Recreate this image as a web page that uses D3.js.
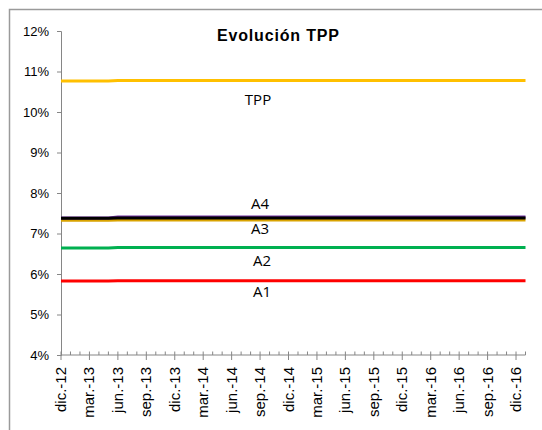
<!DOCTYPE html>
<html>
<head>
<meta charset="utf-8">
<script src="https://cdn.jsdelivr.net/npm/d3@7"></script>
<style>
  body { margin: 0; background: #fff; }
  svg { display: block; }
</style>
</head>
<body>
<svg id="chart" width="542" height="430"></svg>
<script>
// data (monthly axis, values in %)
const startMonth = "2012-12";
const endMonth = "2017-01";
const dates = ["2012-12", "2013-05", "2013-06", "2017-01"];
const tickLabels = ["dic.-12", "mar.-13", "jun.-13", "sep.-13", "dic.-13", "mar.-14", "jun.-14", "sep.-14",
    "dic.-14", "mar.-15", "jun.-15", "sep.-15", "dic.-15", "mar.-16", "jun.-16", "sep.-16", "dic.-16"];
const yTicks = [4, 5, 6, 7, 8, 9, 10, 11, 12];

const tpp = [10.765, 10.765, 10.78, 10.78];
const a1 = [5.825, 5.825, 5.835, 5.835];
const a2 = [6.645, 6.645, 6.655, 6.655];
const a3 = [7.325, 7.325, 7.335, 7.335];
const a4 = [7.385, 7.385, 7.41, 7.41];
const a4b = [7.375, 7.375, 7.38, 7.38];

const series = [
    { name: 'TPP', values: tpp, color: '#FFC000' },
    { name: 'A1', values: a1, color: '#FF0000' },
    { name: 'A2', values: a2, color: '#00B050' },
    { name: 'A3', values: a3, color: '#D9A300' },
    { name: 'A4', values: a4, color: '#7030A0' },
    { name: 'A4b', values: a4b, color: '#000000' },
];

// labels placed next to the lines
const labels = [
    { text: 'TPP', x: 258, y: 105 },
    { text: 'A4', x: 260, y: 209 },
    { text: 'A3', x: 260, y: 234 },
    { text: 'A2', x: 262, y: 266 },
    { text: 'A1', x: 262, y: 297 },
];

const monthIndex = s => {
    const [y, m] = s.split('-').map(Number);
    const [y0, m0] = startMonth.split('-').map(Number);
    return (y - y0) * 12 + (m - m0);
};

const svg = d3.select('#chart');
const plot = { left: 61, right: 525.5, top: 31, bottom: 355 };

// outer frame
svg.append('rect')
    .attr('x', 9.5).attr('y', 9.5)
    .attr('width', 600).attr('height', 600)
    .attr('fill', 'none')
    .attr('stroke', '#9a9a9a')
    .attr('stroke-width', 1.5);

const x = d3.scaleLinear()
    .domain([0, monthIndex(endMonth)])
    .range([plot.left, plot.right]);

const y = d3.scaleLinear()
    .domain([4, 12])
    .range([plot.bottom, plot.top]);

const axisColor = '#868686';

// ----- Y axis
const yAxis = svg.append('g')
    .attr('transform', `translate(${plot.left},0)`)
    .call(d3.axisLeft(y).tickValues(yTicks).tickFormat(d => d + '%').tickSize(4).tickPadding(8));
yAxis.select('.domain').attr('stroke', axisColor);
yAxis.selectAll('.tick line').attr('stroke', axisColor);
yAxis.selectAll('.tick text')
    .attr('fill', '#000')
    .style('font-family', 'Arial, "Liberation Sans", sans-serif')
    .style('font-size', '13px');

// ----- X axis
const gx = svg.append('g');
gx.append('line')
    .attr('x1', plot.left).attr('x2', plot.right)
    .attr('y1', plot.bottom).attr('y2', plot.bottom)
    .attr('stroke', axisColor);

const months = d3.range(0, monthIndex(endMonth) + 1);
gx.selectAll('line.minor')
    .data(months)
    .join('line')
    .attr('class', 'minor')
    .attr('x1', d => x(d)).attr('x2', d => x(d))
    .attr('y1', plot.bottom - 3.5).attr('y2', d => d % 3 === 0 && d < 49 ? plot.bottom + 5 : plot.bottom)
    .attr('stroke', axisColor);

gx.selectAll('text')
    .data(tickLabels)
    .join('text')
    .attr('transform', (d, i) => `translate(${x(i * 3) + 5},${plot.bottom + 12}) rotate(-90)`)
    .attr('text-anchor', 'end')
    .style('font-family', 'Arial, "Liberation Sans", sans-serif')
    .style('font-size', '15px')
    .text(d => d);

// ----- Lines
const line = d3.line()
    .x((d, i) => x(monthIndex(dates[i])))
    .y(d => y(d));

svg.append('g')
    .selectAll('path')
    .data([series[0], series[1], series[2], series[3], series[4], series[5]])
    .join('path')
    .attr('d', s => line(s.values))
    .attr('fill', 'none')
    .attr('stroke', s => s.color)
    .attr('stroke-width', 3);

// ----- Series labels
svg.append('g')
    .selectAll('text')
    .data(labels)
    .join('text')
    .attr('x', d => d.x).attr('y', d => d.y)
    .attr('text-anchor', 'middle')
    .style('font-family', '"Open Sans", sans-serif')
    .style('font-size', '15px')
    .text(d => d.text);

// ----- Title
svg.append('text')
    .attr('x', 278).attr('y', 41)
    .attr('text-anchor', 'middle')
    .attr('textLength', 122)
    .attr('lengthAdjust', 'spacing')
    .style('font-family', 'Arial, "Liberation Sans", sans-serif')
    .style('font-weight', 'bold')
    .style('font-size', '16px')
    .text('Evolución TPP');
</script>
</body>
</html>
